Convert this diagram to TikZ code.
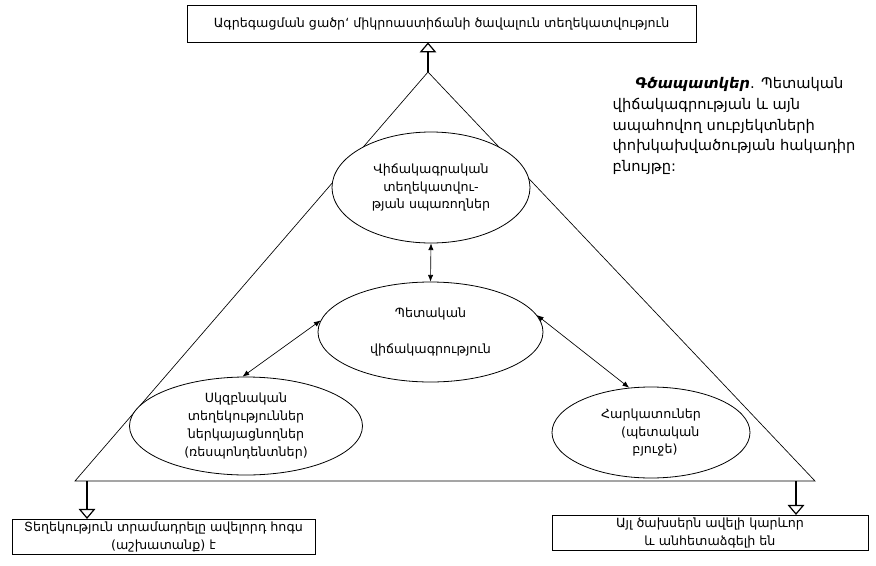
\documentclass[tikz,border=0pt]{standalone}
\usepackage{fontspec}
\setmainfont{DejaVu Sans}
\usetikzlibrary{positioning,arrows.meta,shapes.geometric,calc}
\usepackage{xcolor}

\begin{document}
\begin{tikzpicture}[x=0.75pt, y=-0.75pt, >=Latex, every node/.style={font=\fontsize{9.5}{13.3}\selectfont}]
\tikzstyle{box}=[rectangle, draw, line width=0.6pt, align=center, inner sep=2pt]
\tikzstyle{oval}=[ellipse, draw, line width=0.6pt, fill=white, align=center, inner sep=0pt]
\tikzstyle{drop}=[-{Triangle[open, length=7.5pt, width=12.5pt]}, line width=0.9pt]
\tikzstyle{link}=[{Latex[length=5pt, width=4pt]}-{Latex[length=5pt, width=4pt]}, line width=0.5pt]
\useasboundingbox (0,0) rectangle (876,565);

% Boxes outside the triangle
\node[box, minimum width=381.75pt, minimum height=27.75pt] (macro) at (441.5,23.5) {Ագրեգացման ցածր` միկրոաստիճանի ծավալուն տեղեկատվություն};
\node[box, minimum width=227.25pt, minimum height=24pt] (burden) at (163.5,537) {Տեղեկություն տրամադրելը ավելորդ հոգս\\(աշխատանք) է};
\node[box, minimum width=237pt, minimum height=25.5pt] (costs) at (710,533) {Այլ ծախսերն ավելի կարևոր\\և անհետաձգելի են};

% Triangle
\coordinate (apex) at (428,72);
\coordinate (baseL) at (75,481);
\coordinate (baseR) at (815,481);
\draw[line width=0.5pt] (apex) -- (baseL) -- (baseR) -- cycle;

% Ellipses inside
\node[oval, minimum width=148.5pt, minimum height=83.25pt] (users) at (431,187.5) {Վիճակագրական\\տեղեկատվու-\\թյան սպառողներ};
\node[oval, minimum width=168.75pt, minimum height=75pt] (stat) at (430.5,332) {Պետական\\[13pt]վիճակագրություն};
\node[oval, minimum width=174.75pt, minimum height=73.5pt] (resp) at (246,426) {Սկզբնական\\տեղեկություններ\\ներկայացնողներ\\(ռեսպոնդենտներ)};
\node[oval, minimum width=148.5pt, minimum height=68.25pt] (tax) at (651,432.5) {Հարկատուներ\\\hspace*{14pt}(պետական\\\hspace*{6pt}բյուջե)};

% Links between ellipses
\draw[link] (users.south) -- (stat.north);
\draw[link] (stat.174) -- (resp.94);
\draw[link] (stat.9) -- (tax.116);

% Arrows out of the triangle
\coordinate (dropL) at (87,481);
\coordinate (dropR) at (796,481);
\draw[drop] (apex) -- (apex |- macro.south);
\draw[drop] (dropL) -- (dropL |- burden.north);
\draw[drop] (dropR) -- (dropR |- costs.north);

% Caption
\node[anchor=north west, align=left, font=\fontsize{11}{15.5}\selectfont] (caption) at (608,73) {\hspace*{17pt}\textbf{\textit{Գծապատկեր}}. Պետական\\վիճակագրության և այն\\ապահովող սուբյեկտների\\փոխկախվածության հակադիր\\բնույթը:};
\end{tikzpicture}
\end{document}
